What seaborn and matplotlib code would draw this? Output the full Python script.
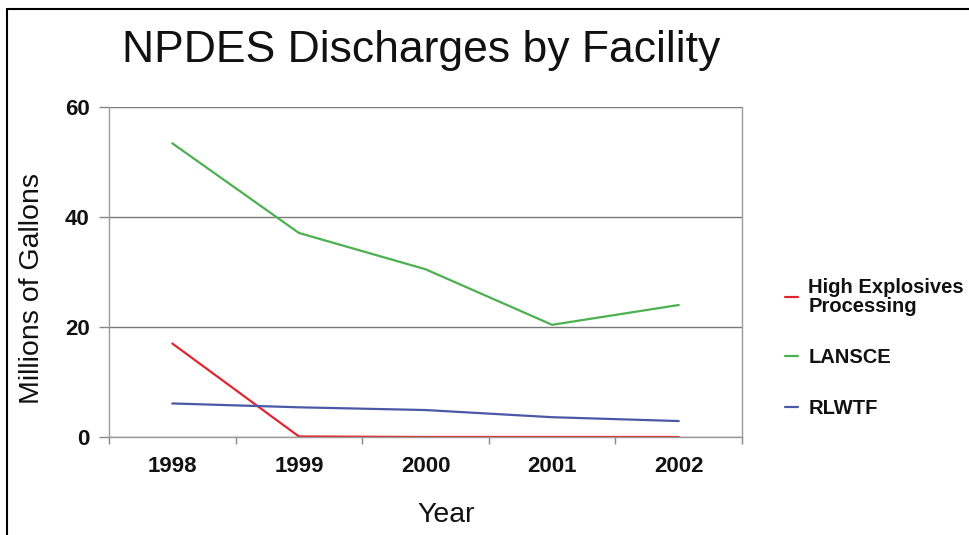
import pandas as pd
import numpy as np
import matplotlib.pyplot as plt
import seaborn as sns
from matplotlib.lines import Line2D

# data (millions of gallons)
years = [1998, 1999, 2000, 2001, 2002]
facilities = ['High Explosives\nProcessing', 'LANSCE', 'RLWTF']
hep = [17.0, 0.1, 0.0, 0.0, 0.0]
lansce = [53.4, 37.1, 30.5, 20.4, 24.0]
rlwtf = [6.1, 5.4, 4.9, 3.6, 2.9]
colors = ['#e0262e', '#4cb050', '#4a58a6']

df = pd.DataFrame({
    'Year': years * 3,
    'Facility': [facilities[0]] * 5 + [facilities[1]] * 5 + [facilities[2]] * 5,
    'Gallons': hep + lansce + rlwtf,
})

sns.set_theme(style="white")
plt.rcParams['font.family'] = ['Liberation Sans', 'DejaVu Sans']

fig = plt.figure(figsize=(9.69, 5.35), dpi=100)
ax = fig.add_axes([109 / 969, 1 - 437 / 535, 633 / 969, 330 / 535])

sns.lineplot(data=df, x='Year', y='Gallons', hue='Facility',
             palette=dict(zip(facilities, colors)), linewidth=1.6, ax=ax)

ax.set_xlim(1997.5, 2002.5)
ax.set_ylim(0, 60)
ax.set_yticks([0, 20, 40, 60])
ax.set_yticklabels(['0', '20', '40', '60'], fontsize=16, fontweight='bold')
ax.set_xticks(np.arange(1997.5, 2003, 1))
ax.set_xticklabels([])
ax.set_xticks(years, minor=True)
ax.set_xticklabels([str(y) for y in years], minor=True, fontsize=16, fontweight='bold')
ax.tick_params(axis='x', which='major', direction='out', length=5, width=1, color='#888888', bottom=True)
ax.tick_params(axis='x', which='minor', length=0, pad=14, labelcolor='#111111')
ax.tick_params(axis='y', direction='out', length=7, width=1, color='#888888', left=True, pad=7,
               labelcolor='#111111')
ax.grid(axis='y', color='#7a7a7a', linewidth=1)
ax.set_xlabel('')
ax.set_ylabel('')
for side in ['left', 'right', 'bottom']:
    ax.spines[side].set_color('#9a9a9a')
    ax.spines[side].set_linewidth(1)
ax.spines['top'].set_visible(False)

sns.move_legend(ax, 'center left', bbox_to_anchor=(785 / 969, 1 - 348 / 535),
                bbox_transform=fig.transFigure, title=None, frameon=False,
                fontsize=14.5, handlelength=0.65, handletextpad=0.5, labelspacing=1.6,
                borderpad=0, borderaxespad=0)
leg = ax.get_legend()
for t in leg.get_texts():
    t.set_fontweight('bold')
    t.set_linespacing(1.0)
    t.set_color('#111111')

fig.text(421 / 969, 1 - 62 / 535, 'NPDES Discharges by Facility', ha='center', va='baseline',
         fontsize=32, color='#111111')
fig.text(32 / 969, 1 - 288 / 535, 'Millions of Gallons', rotation=90, ha='center', va='center',
         fontsize=20.5, color='#111111')
fig.text(446 / 969, 1 - 522 / 535, 'Year', ha='center', va='baseline', fontsize=20.5, color='#111111')

# frame lines on the left and top of the figure
for xs, ys in [([7, 7], [9, 535]), ([7, 969], [9, 9])]:
    fig.add_artist(Line2D([x / 969 for x in xs], [1 - y / 535 for y in ys],
                          transform=fig.transFigure, color='black', linewidth=1.5))

plt.savefig('out.png', dpi=100)
